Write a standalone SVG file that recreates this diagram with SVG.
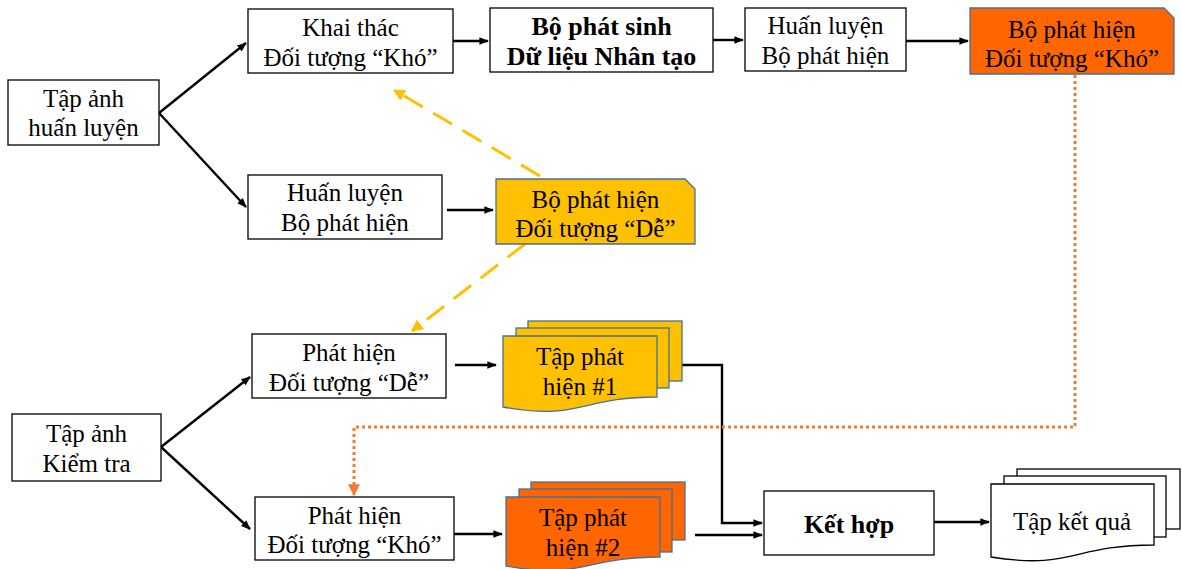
<svg xmlns="http://www.w3.org/2000/svg" width="1182" height="569" viewBox="0 0 1182 569">
<style>
.box{fill:#fff;stroke:#000;stroke-width:1.3}
.t{font-family:"Liberation Serif",serif;font-size:25px;fill:#000;text-anchor:middle}
.b{font-weight:bold;font-size:26px}
.blk{fill:none;stroke:#000;stroke-width:2.4}
.ydash{fill:none;stroke:#FFC000;stroke-width:3;stroke-dasharray:22 12}
.odot{fill:none;stroke:#ED7D31;stroke-width:3;stroke-dasharray:3 3}
.yel{fill:#FFC000;stroke:#41719C;stroke-width:1.3}
.org{fill:#FF6600;stroke:#41719C;stroke-width:1.3}
.wdoc{fill:#fff;stroke:#000;stroke-width:1.3}
</style>
<defs>
<marker id="ab" viewBox="0 0 10 10" refX="9" refY="5" markerWidth="4" markerHeight="4" orient="auto" markerUnits="strokeWidth"><path d="M0,1 L10,5 L0,9 Z" fill="#000"/></marker>
<marker id="ay" viewBox="0 0 10 10" refX="9" refY="5" markerWidth="4" markerHeight="4" orient="auto" markerUnits="strokeWidth"><path d="M0,0 L10,5 L0,10 Z" fill="#FFC000"/></marker>
<marker id="ao" viewBox="0 0 10 10" refX="9" refY="5" markerWidth="4" markerHeight="4" orient="auto" markerUnits="strokeWidth"><path d="M0,0 L10,5 L0,10 Z" fill="#ED7D31"/></marker>
</defs>

<g id="connectors">
<path class="blk" d="M159,113 L246,43" marker-end="url(#ab)"/>
<path class="blk" d="M159,113 L246,207" marker-end="url(#ab)"/>
<path class="blk" d="M453,41 L488,41" marker-end="url(#ab)"/>
<path class="blk" d="M713,40 L743,40" marker-end="url(#ab)"/>
<path class="blk" d="M906,41 L968,41" marker-end="url(#ab)"/>
<path class="blk" d="M447,210 L493,210" marker-end="url(#ab)"/>
<path class="ydash" d="M540,176 L394,90" marker-end="url(#ay)"/>
<path class="ydash" d="M525,244 L412,331" marker-end="url(#ay)"/>
<path class="blk" d="M161,447 L250,377" marker-end="url(#ab)"/>
<path class="blk" d="M161,447 L250,529" marker-end="url(#ab)"/>
<path class="blk" d="M455,365 L496,365" marker-end="url(#ab)"/>
<path class="blk" d="M454,534 L502,534" marker-end="url(#ab)"/>
<path class="blk" d="M682,365 L722,365 L722,523 L762,523" marker-end="url(#ab)"/>
<path class="blk" d="M695,535 L762,535" marker-end="url(#ab)"/>
<path class="blk" d="M934,522 L989,522" marker-end="url(#ab)"/>
<path class="odot" d="M1075,75 L1075,427 L354,427 L354,495" marker-end="url(#ao)"/>
</g>

<g id="n-tap-anh-huan-luyen">
<rect class="box" x="8" y="80" width="151" height="65"/>
<text class="t" x="83.5" y="107">Tập ảnh</text>
<text class="t" x="83.5" y="136">huấn luyện</text>
</g>

<g id="n-khai-thac">
<rect class="box" x="248" y="9" width="205" height="64"/>
<text class="t" x="350.5" y="36">Khai thác</text>
<text class="t" x="350.5" y="66">Đối tượng “Khó”</text>
</g>

<g id="n-bo-phat-sinh">
<rect class="box" x="490" y="8" width="223" height="64"/>
<text class="t b" x="601.5" y="35">Bộ phát sinh</text>
<text class="t b" x="601.5" y="65">Dữ liệu Nhân tạo</text>
</g>

<g id="n-huan-luyen-1">
<rect class="box" x="745" y="8" width="161" height="63"/>
<text class="t" x="825.5" y="34">Huấn luyện</text>
<text class="t" x="825.5" y="64">Bộ phát hiện</text>
</g>

<g id="n-bo-phat-hien-kho">
<path class="org" d="M970,8 H1164 L1174,18 V74 H970 Z"/>
<text class="t" x="1072" y="38">Bộ phát hiện</text>
<text class="t" x="1072" y="67">Đối tượng “Khó”</text>
</g>

<g id="n-huan-luyen-2">
<rect class="box" x="248" y="175" width="194" height="64"/>
<text class="t" x="345" y="201">Huấn luyện</text>
<text class="t" x="345" y="231">Bộ phát hiện</text>
</g>

<g id="n-bo-phat-hien-de">
<path class="yel" d="M496,179 H685 L695,189 V244 H496 Z"/>
<text class="t" x="595.5" y="208">Bộ phát hiện</text>
<text class="t" x="595.5" y="237">Đối tượng “Dễ”</text>
</g>

<g id="n-phat-hien-de">
<rect class="box" x="252" y="334" width="194" height="64"/>
<text class="t" x="349" y="361">Phát hiện</text>
<text class="t" x="349" y="391">Đối tượng “Dễ”</text>
</g>

<g id="n-tap-phat-hien-1">
<rect class="yel" x="528" y="321" width="154" height="60"/>
<rect class="yel" x="516" y="328" width="153" height="60"/>
<path class="yel" d="M503,336 H657 V397 C580,397 580,421 503,407 Z"/>
<text class="t" x="580" y="365">Tập phát</text>
<text class="t" x="580" y="395">hiện #1</text>
</g>

<g id="n-tap-anh-kiem-tra">
<rect class="box" x="12" y="414" width="149" height="67"/>
<text class="t" x="86.5" y="442">Tập ảnh</text>
<text class="t" x="86.5" y="472">Kiểm tra</text>
</g>

<g id="n-phat-hien-kho">
<rect class="box" x="255" y="497" width="199" height="63"/>
<text class="t" x="354.5" y="524">Phát hiện</text>
<text class="t" x="354.5" y="553">Đối tượng “Khó”</text>
</g>

<g id="n-tap-phat-hien-2">
<rect class="org" x="531" y="482" width="154" height="58"/>
<rect class="org" x="519" y="489" width="153" height="63"/>
<path class="org" d="M506,497 H660 V557 C583,557 583,580 506,566 Z"/>
<text class="t" x="583" y="526">Tập phát</text>
<text class="t" x="583" y="556">hiện #2</text>
</g>

<g id="n-ket-hop">
<rect class="box" x="764" y="491" width="170" height="64"/>
<text class="t b" x="849" y="533">Kết hợp</text>
</g>

<g id="n-tap-ket-qua">
<rect class="wdoc" x="1017" y="469" width="163" height="60"/>
<rect class="wdoc" x="1004" y="476" width="162" height="61"/>
<path class="wdoc" d="M991,484 H1154 V545 C1072,545 1072,570 991,557 Z"/>
<text class="t" x="1072" y="530">Tập kết quả</text>
</g>
</svg>
